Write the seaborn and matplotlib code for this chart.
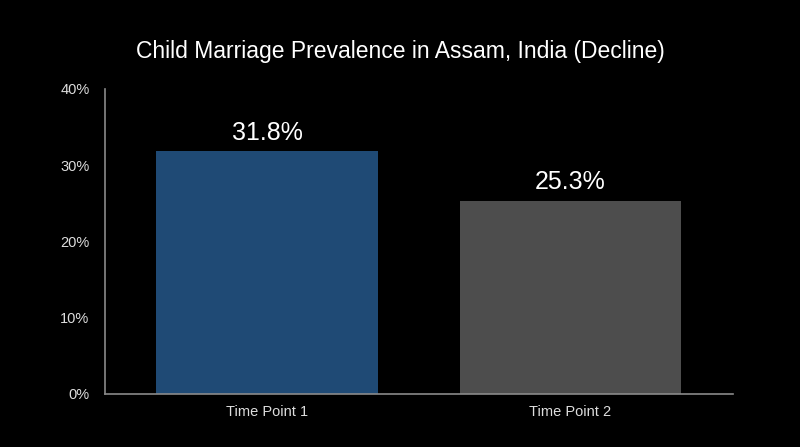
import matplotlib
matplotlib.use("Agg")
import matplotlib.pyplot as plt
import seaborn as sns

# -----------------------------------
# Data
# -----------------------------------

categories = ["Time Point 1", "Time Point 2"]
prevalence = [31.8, 25.3]
bar_colors = ["#1f4a75", "#4d4d4d"]
y_ticks = [0, 10, 20, 30, 40]

# -----------------------------------
# Style
# -----------------------------------

sns.set_style("dark")
plt.rcParams["font.family"] = ["Liberation Sans", "DejaVu Sans"]

fig = plt.figure(figsize=(8, 4.47), dpi=100, facecolor="black")
ax = fig.add_axes([0.131, 0.119, 0.785, 0.682])
ax.set_facecolor("black")

sns.barplot(
    x=categories,
    y=prevalence,
    hue=categories,
    palette=bar_colors,
    width=0.73,
    legend=False,
    saturation=1,
    linewidth=0,
    ax=ax
)

# value labels above bars
for i, value in enumerate(prevalence):
    ax.text(
        i, value + 0.9, f"{value}%",
        ha="center", va="bottom",
        color="white", fontsize=18
    )

ax.set_ylim(0, 40)
ax.set_xlim(-0.535, 1.535)
ax.set_yticks(y_ticks)
ax.set_yticklabels([f"{t}%" for t in y_ticks], color="#dddddd", fontsize=10.5)
ax.tick_params(axis="x", colors="#dddddd", labelsize=10.5, length=0, pad=8)
ax.tick_params(axis="y", length=0, pad=11)
ax.grid(False)

for side in ["top", "right"]:
    ax.spines[side].set_visible(False)
for side in ["left", "bottom"]:
    ax.spines[side].set_visible(True)
    ax.spines[side].set_color("#8a8a8a")
    ax.spines[side].set_linewidth(1.2)

ax.set_xlabel("")
ax.set_ylabel("")

fig.suptitle(
    "Child Marriage Prevalence in Assam, India (Decline)",
    color="white", fontsize=16.5, y=0.91
)

fig.savefig("out.png", dpi=100, facecolor="black")
